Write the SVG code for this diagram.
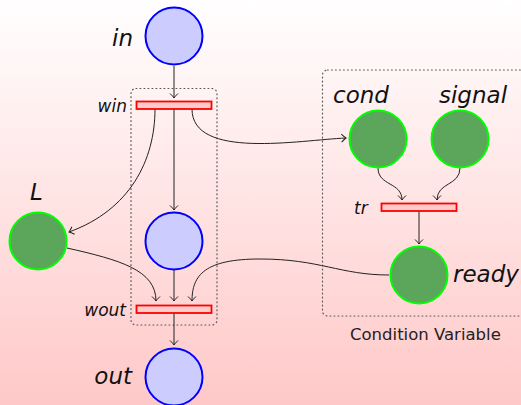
<svg xmlns="http://www.w3.org/2000/svg" width="521" height="405" viewBox="0 0 521 405">
  <defs>
    <linearGradient id="bg" x1="0" y1="0" x2="0" y2="1">
      <stop offset="0" stop-color="#ffffff"/>
      <stop offset="1" stop-color="#ffc8c8"/>
    </linearGradient>
    <marker id="arr" markerUnits="userSpaceOnUse" markerWidth="12" markerHeight="12" refX="0" refY="0" viewBox="-6 -6 12 12" orient="auto" overflow="visible">
      <path d="M-4.5,-4 Q-1.5,-0.8 0,0 Q-1.5,0.8 -4.5,4" fill="none" stroke="#222" stroke-width="1"/>
    </marker>
    <style>
      .bluep { fill: #ccccff; stroke: #0000ff; stroke-width: 2; }
      .greenp { fill: #5ca65c; stroke: #00ff00; stroke-width: 2; }
      .trans { fill: #ffcccc; stroke: #ff0000; stroke-width: 1.8; }
      .grp { fill: none; stroke: #555; stroke-width: 1.2; stroke-dasharray: 0.8 3.2; stroke-linecap: round; }
      .lbl { font-family: "DejaVu Sans", sans-serif; font-style: italic; fill: #111; font-size: 23px; }
      .small { font-size: 17px; }
      .cap { font-family: "DejaVu Sans", sans-serif; font-size: 16.5px; fill: #222; }
      .arc { fill: none; stroke: #222; stroke-width: 1; marker-end: url(#arr); }
    </style>
  </defs>

  <rect x="0" y="0" width="521" height="405" fill="url(#bg)"/>

  <!-- groupings -->
  <rect class="grp" x="131" y="88.5" width="86" height="236.5" rx="5"/>
  <rect class="grp" x="322.5" y="70" width="220" height="246" rx="5"/>
  <text class="cap" x="350" y="340">Condition Variable</text>

  <!-- connectors -->
  <g id="connectors">
    <path class="arc" d="M174,66 L174,98"/>
    <path class="arc" d="M174,109 L174,210"/>
    <path class="arc" d="M155,109 C155,160 130,210 69,232"/>
    <path class="arc" d="M192,109 C192,160 300,140 346,138"/>
    <path class="arc" d="M378,168 C378,186 402,182 402,200"/>
    <path class="arc" d="M460,168 C460,186 437,182 437,200"/>
    <path class="arc" d="M419,211 L419,244"/>
    <path class="arc" d="M67,248 C120,260 156,270 156,301"/>
    <path class="arc" d="M174,270 L174,301"/>
    <path class="arc" d="M389,275 C340,275 320,259 260,259 C205,259 192,275 192,301"/>
    <path class="arc" d="M174,313 L174,345"/>
  </g>

  <!-- places -->
  <g id="p-in">
    <circle class="bluep" cx="174" cy="36" r="28.5"/>
    <text class="lbl" x="133" y="46" text-anchor="end">in</text>
  </g>
  <g id="p-mid">
    <circle class="bluep" cx="174" cy="241" r="28.5"/>
  </g>
  <g id="p-out">
    <circle class="bluep" cx="174" cy="377" r="28.5"/>
    <text class="lbl" x="132" y="384" text-anchor="end">out</text>
  </g>
  <g id="p-L">
    <circle class="greenp" cx="38" cy="241" r="28.5"/>
    <text class="lbl" x="30" y="200">L</text>
  </g>
  <g id="p-cond">
    <circle class="greenp" cx="378" cy="139" r="28.5"/>
    <text class="lbl" x="333" y="103">cond</text>
  </g>
  <g id="p-signal">
    <circle class="greenp" cx="460" cy="139" r="28.5"/>
    <text class="lbl" x="439" y="103">signal</text>
  </g>
  <g id="p-ready">
    <circle class="greenp" cx="419" cy="275" r="28.5"/>
    <text class="lbl" x="453" y="282">ready</text>
  </g>

  <!-- transitions -->
  <g id="t-win">
    <rect class="trans" x="136.5" y="101.5" width="75" height="7.5"/>
    <text class="lbl small" x="127" y="112" text-anchor="end">win</text>
  </g>
  <g id="t-wout">
    <rect class="trans" x="136.5" y="305.5" width="75" height="7.5"/>
    <text class="lbl small" x="126" y="316" text-anchor="end">wout</text>
  </g>
  <g id="t-tr">
    <rect class="trans" x="381.5" y="203.5" width="75" height="7.5"/>
    <text class="lbl small" x="354" y="214">tr</text>
  </g>
</svg>
